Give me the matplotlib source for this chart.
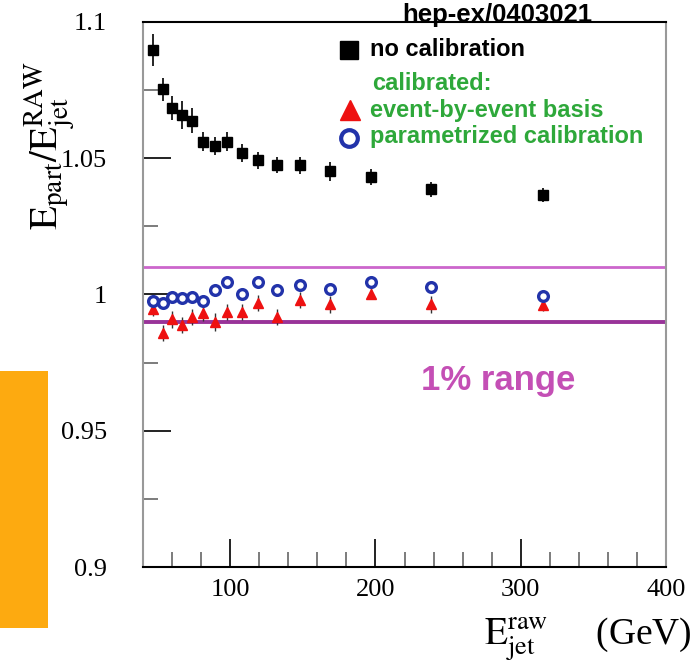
import matplotlib
matplotlib.use("Agg")
import matplotlib.pyplot as plt
from matplotlib.patches import Rectangle
from matplotlib.lines import Line2D

# ---------------- data ----------------
e_jet = [47, 54, 60, 67, 74, 81, 89.5, 98, 108, 119.5, 132.5, 148, 169, 197, 238, 315.5]
no_calib = [1.0896, 1.0752, 1.0684, 1.0658, 1.0637, 1.0560, 1.0544, 1.0560,
            1.0517, 1.0491, 1.0474, 1.0473, 1.0451, 1.0430, 1.0385, 1.0364]
no_calib_err = [0.006, 0.0043, 0.0045, 0.005, 0.0045, 0.0035, 0.0033, 0.0035,
                0.0033, 0.003, 0.003, 0.003, 0.0034, 0.003, 0.0028, 0.0025]
event_by_event = [0.9945, 0.9859, 0.9908, 0.9887, 0.9917, 0.9932, 0.9899, 0.9936,
                  0.9936, 0.9969, 0.9917, 0.9979, 0.9963, 1.0003, 0.9963, 0.9960]
event_err = [0.0025, 0.003, 0.003, 0.003, 0.003, 0.003, 0.0034, 0.003,
             0.003, 0.003, 0.003, 0.003, 0.003, 0.002, 0.003, 0.002]
parametrized = [0.9976, 0.9969, 0.9991, 0.9985, 0.9991, 0.9976, 1.0015, 1.0044,
                1.0000, 1.0044, 1.0015, 1.0034, 1.0019, 1.0046, 1.0026, 0.9993]
param_err = [0.002] * 16
range_lo, range_hi = 0.99, 1.01
x_ticks = [100, 200, 300, 400]
y_ticks = [0.9, 0.95, 1.0, 1.05, 1.1]
y_tick_labels = ["0.9", "0.95", "1", "1.05", "1.1"]

# ---------------- figure ----------------
W, H = 698, 672
fig = plt.figure(figsize=(W / 100, H / 100), dpi=100)
plt.rcParams['mathtext.fontset'] = 'stix'

ax = fig.add_axes([143 / W, 1 - 567 / H, (666 - 143) / W, (567 - 21.7) / H])
ax.set_xlim(40, 400)
ax.set_ylim(0.9, 1.1)

# 1% band lines
ax.axhline(range_hi, color='#CC66CC', lw=2.0, zorder=1)
ax.axhline(range_lo, color='#993399', lw=2.8, zorder=1)

# data
ax.errorbar(e_jet, no_calib, yerr=no_calib_err, fmt='s', color='black',
            ms=6.5, elinewidth=1.2, capsize=0, zorder=4)
ax.errorbar(e_jet, event_by_event, yerr=event_err, fmt='^', color='#EE1111',
            ecolor='#333333', ms=7, elinewidth=1.0, capsize=0, zorder=3)
ax.errorbar(e_jet, parametrized, yerr=param_err, fmt='o', mfc='white',
            mec='#2233AA', ecolor='#333333', ms=7, mew=2.4, elinewidth=1.0,
            capsize=0, zorder=3)

# axes styling
for side in ['left', 'right']:
    ax.spines[side].set_color('#999999')
    ax.spines[side].set_linewidth(1.5)
for side in ['top', 'bottom']:
    ax.spines[side].set_color('black')
    ax.spines[side].set_linewidth(1.5)

ax.set_xticks(x_ticks)
ax.set_xticks(range(60, 400, 20), minor=True)
ax.set_yticks(y_ticks)
ax.set_yticklabels(y_tick_labels)
ax.set_yticks([0.925, 0.975, 1.025, 1.075], minor=True)
ax.tick_params(axis='both', which='both', direction='in', top=False, right=False)
ax.tick_params(axis='both', which='major', length=20, width=1.4, color='#222222')
ax.tick_params(axis='both', which='minor', length=11, width=1.2, color='#666666')
ax.tick_params(axis='y', which='major', pad=26)
ax.tick_params(axis='x', which='major', pad=9)
for lbl in ax.get_xticklabels() + ax.get_yticklabels():
    lbl.set_fontfamily('Liberation Serif')
    lbl.set_fontsize(19)

# axis labels
fig.text(50 / W, 1 - 146 / H, r'$\mathrm{E_{part}/E_{jet}^{RAW}}$', rotation=90,
         ha='center', va='center', fontsize=28)
fig.text(692 / W, 1 - 640 / H, r'$\mathrm{E_{jet}^{raw}}$     (GeV)',
         ha='right', va='center', fontsize=27, family='Liberation Serif')

# annotation texts
fig.text(497 / W, 1 - 15 / H, 'hep-ex/0403021', ha='center', va='center',
         fontsize=18.5, fontweight='bold', family='Liberation Sans')
ax.text(284.5, 0.9685, '1% range', ha='center', va='center',
        fontsize=25, fontweight='bold', color='#C44FB5', family='Liberation Sans')

# legend (manual)
green = '#2EA83A'
leg_font = dict(fontsize=17, fontweight='bold', family='Liberation Sans', va='center', ha='left')
fig.text(370 / W, 1 - 50 / H, 'no calibration', color='black', **leg_font)
fig.text(372 / W, 1 - 84 / H, 'calibrated:', color=green, **leg_font)
fig.text(370 / W, 1 - 110 / H, 'event-by-event basis', color=green, **leg_font)
fig.text(370 / W, 1 - 137 / H, 'parametrized calibration', color=green, **leg_font)
fig.add_artist(Line2D([349 / W], [1 - 50 / H], marker='s', ms=13, color='black',
                      transform=fig.transFigure))
fig.add_artist(Line2D([350 / W], [1 - 110 / H], marker='^', ms=14, color='#EE1111',
                      transform=fig.transFigure))
fig.add_artist(Line2D([349 / W], [1 - 138 / H], marker='o', ms=12, mfc='white',
                      mec='#2233AA', mew=3, transform=fig.transFigure))

# orange block
fig.patches.append(Rectangle((0, 1 - 628 / H), 48 / W, (628 - 371) / H,
                             transform=fig.transFigure, facecolor='#FDAA10',
                             edgecolor='none'))

fig.savefig('out.png', dpi=100)
